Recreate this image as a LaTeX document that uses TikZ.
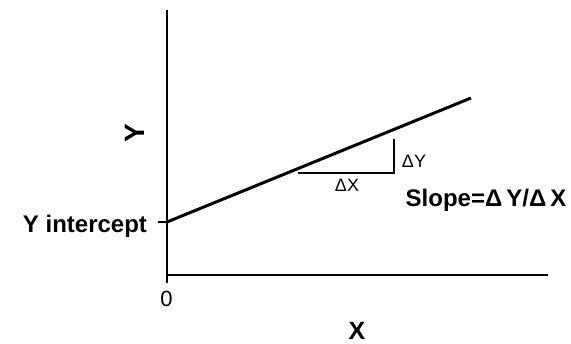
\documentclass[tikz,border=0pt]{standalone}
\usepackage{fontspec}
\setmainfont{Liberation Sans}
\begin{document}
\begin{tikzpicture}[x=1pt,y=-1pt,
  axis/.style={line width=2pt},
  curve/.style={line width=3pt},
  big/.style={font=\fontsize{24}{27}\selectfont\bfseries, inner sep=0pt},
  small/.style={font=\fontsize{18}{20}\selectfont, inner sep=0pt}]
\useasboundingbox (0,0) rectangle (571,344);
\coordinate (ytop) at (167,10);
\coordinate (ybot) at (167,283);
\coordinate (origin) at (167,275);
\coordinate (xend) at (548,275);
\coordinate (yint) at (167,222);
\coordinate (tick) at (158,222);
\coordinate (lend) at (471,98);
\coordinate (tA) at (298,173);
\coordinate (tB) at (394,173);
\coordinate (tC) at (394,139);
\draw[axis] (ytop) -- (ybot);
\draw[axis] (origin) -- (xend);
\draw[axis] (tick) -- (yint);
\draw[curve] (yint) -- (lend);
\draw[axis] (tA) -- (tB) -- (tC);
\node[big] (yint lbl) at (85,226) {Y intercept};
\node[big, font=\fontsize{28}{30}\selectfont\bfseries, rotate=90] (ylbl) at (134.5,133.5) {Y};
\node[big, font=\fontsize{25}{27}\selectfont\bfseries] (xlbl) at (357,331) {X};
\node[small, font=\fontsize{22}{24}\selectfont] (zero) at (166.5,299) {0};
\node[small] (dy) at (414,161) {ΔY};
\node[small] (dx) at (347,185) {ΔX};
\node[big] (slope) at (486,200) {Slope=Δ\,Y/Δ\,X};
\end{tikzpicture}
\end{document}
